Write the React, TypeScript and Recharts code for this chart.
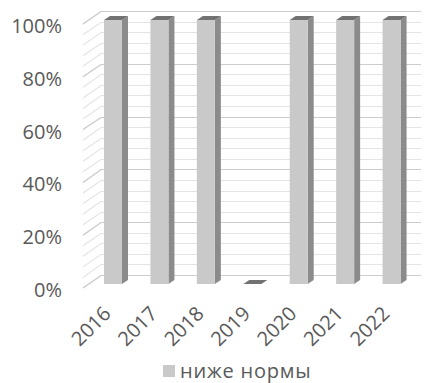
import React from "react";
import { BarChart, Bar, XAxis, YAxis, CartesianGrid, Legend } from "recharts";

const years = ["2016", "2017", "2018", "2019", "2020", "2021", "2022"];
const belowNorm = [100, 100, 100, 0, 100, 100, 100];
const majorTicks = [0, 20, 40, 60, 80, 100];
const minorTicks = [
  0, 4, 8, 12, 16, 20, 24, 28, 32, 36, 40, 44, 48, 52, 56, 60, 64, 68, 72, 76,
  80, 84, 88, 92, 96, 100,
];

const data = years.map((year, i) => ({ year, value: belowNorm[i] }));

const FONT = "'Open Sans', sans-serif";
const TEXT = "#595959";

const CHART_W = 424;
const CHART_H = 383;
const MARGIN = { top: 20, right: 9, bottom: 0, left: 0 };
const Y_AXIS_W = 90;
const PLOT_W = CHART_W - MARGIN.left - MARGIN.right - Y_AXIS_W;

// depth of the bars themselves and of the side wall
const BAR_DX = 6;
const BAR_DY = 4;
const WALL_BACK_DX = 11;
const WALL_BACK_DY = 9;
const WALL_FRONT_DX = -7;
const WALL_FRONT_DY = 4;

const Box3D = (props: any) => {
  const { x, y, width, height } = props;
  const w = width;
  const h = Math.max(0, height);
  const top = `${x},${y} ${x + BAR_DX},${y - BAR_DY} ${x + w + BAR_DX},${y - BAR_DY} ${x + w},${y}`;
  const side = `${x + w},${y} ${x + w + BAR_DX},${y - BAR_DY} ${x + w + BAR_DX},${y + h - BAR_DY} ${x + w},${y + h}`;
  return (
    <g>
      {h > 0 && <polygon points={side} fill="#8b8b8b" />}
      {h > 0 && <rect x={x} y={y} width={w} height={h} fill="#c9c9c9" />}
      <polygon points={top} fill="#727272" />
    </g>
  );
};

// gridline: slanted piece on the left side wall, then across the back wall
const wallLine = (color: string) => (p: any) => {
  const x1 = Number(p.x1);
  const y1 = Number(p.y1);
  const by = Math.round(y1 - WALL_BACK_DY) + 0.5;
  const d = `M${x1 + WALL_FRONT_DX},${y1 + WALL_FRONT_DY}L${x1 + WALL_BACK_DX},${by}L${x1 + PLOT_W + 6},${by}`;
  return <path key={p.key} d={d} stroke={color} strokeWidth={1.2} fill="none" />;
};

const YTick = (props: any) => {
  const { x, y, payload } = props;
  return (
    <text x={x} y={y + 6} dy="0.35em" textAnchor="end" fill={TEXT} fontFamily={FONT} fontSize={20}>
      {payload.value}%
    </text>
  );
};

const XTick = (props: any) => {
  const { x, y, payload } = props;
  const tx = x - 1;
  const ty = y + 23;
  return (
    <text
      x={tx}
      y={ty}
      textAnchor="end"
      fill={TEXT}
      fontFamily={FONT}
      fontSize={20}
      transform={`rotate(-45, ${tx}, ${ty})`}
    >
      {payload.value}
    </text>
  );
};

const LegendContent = () => (
  <div
    style={{
      display: "flex",
      alignItems: "center",
      height: 24,
      fontFamily: FONT,
      fontSize: 20,
      lineHeight: "24px",
      letterSpacing: 0.8,
      color: TEXT,
      whiteSpace: "nowrap",
    }}
  >
    <span
      style={{
        display: "inline-block",
        width: 12,
        height: 12,
        background: "#c9c9c9",
        marginRight: 5,
      }}
    />
    <span>ниже нормы</span>
  </div>
);

export default function App() {
  return (
    <div style={{ position: "absolute", left: 0, top: 0, background: "#fff" }}>
      <BarChart width={CHART_W} height={CHART_H} data={data} margin={MARGIN} barSize={18}>
        <CartesianGrid
          vertical={false}
          horizontalValues={minorTicks}
          syncWithTicks
          horizontal={wallLine("#e4e4e4")}
        />
        <CartesianGrid
          vertical={false}
          horizontalValues={majorTicks}
          syncWithTicks
          horizontal={wallLine("#cdcdcd")}
        />
        <XAxis
          dataKey="year"
          axisLine={false}
          tickLine={false}
          height={75}
          tick={<XTick />}
          interval={0}
        />
        <YAxis
          domain={[0, 100]}
          ticks={majorTicks}
          interval={0}
          axisLine={false}
          tickLine={false}
          width={Y_AXIS_W}
          tickMargin={22}
          tick={<YTick />}
        />
        <Legend
          content={<LegendContent />}
          wrapperStyle={{ left: 163, top: 359, width: 200 }}
        />
        <Bar
          dataKey="value"
          name="ниже нормы"
          shape={<Box3D />}
          isAnimationActive={false}
        />
      </BarChart>
    </div>
  );
}
